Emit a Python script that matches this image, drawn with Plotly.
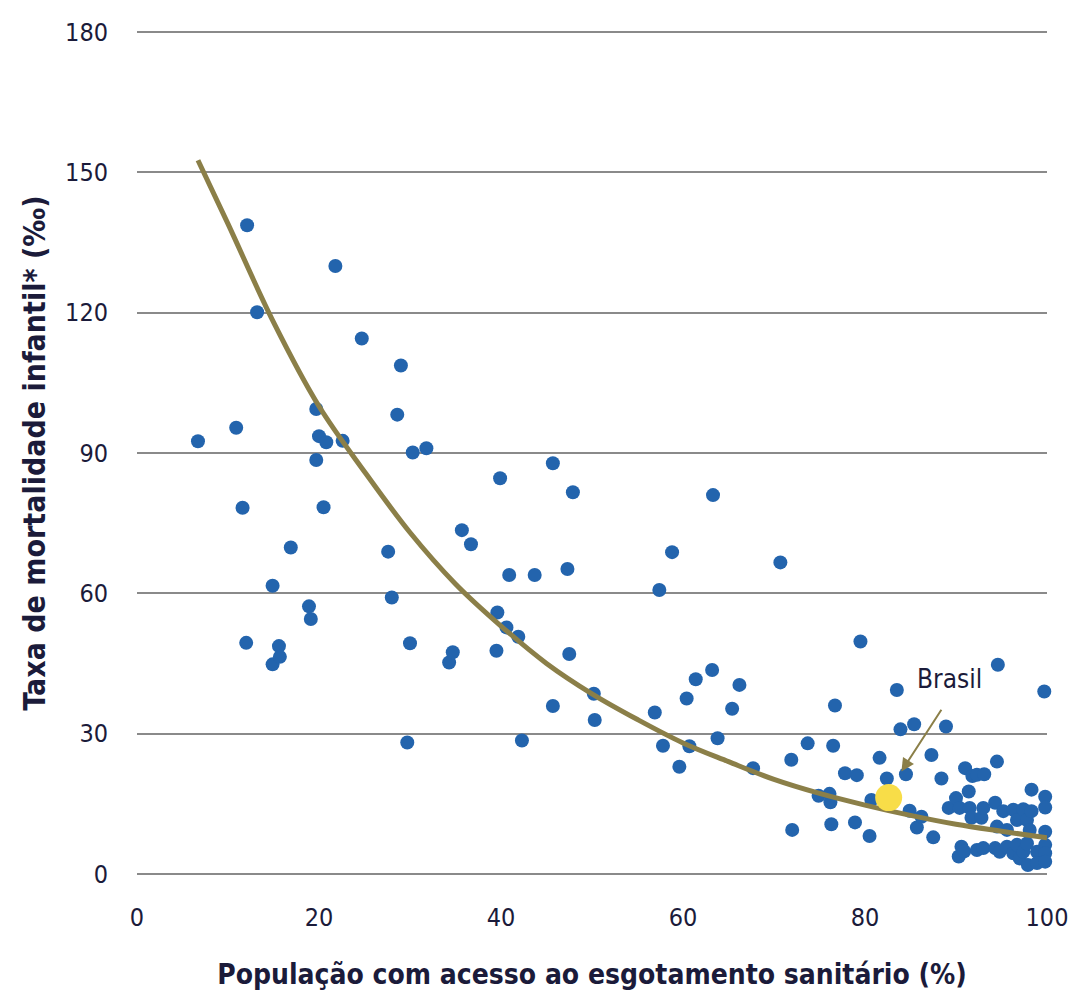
import plotly.graph_objects as go

# Scatter data: sanitation access (%) vs infant mortality (per mille)
x_access = [6.7, 10.9, 11.6, 12.0, 12.1, 13.2, 14.9, 14.9, 15.6, 15.7, 16.9, 18.9, 19.1,
            19.7, 19.7, 20.0, 20.5, 20.8, 21.8, 22.6, 24.7, 27.6, 28.0, 28.6, 29.0, 29.7,
            30.0, 30.3, 31.8, 34.3, 34.7, 35.7, 36.7, 39.5, 39.6, 39.9, 40.6, 40.9, 41.9,
            42.3, 43.7, 45.7, 45.7, 47.3, 47.5, 47.9, 50.2, 50.3, 56.9, 57.4, 57.8, 58.8,
            59.6, 60.4, 60.7, 61.4, 63.2, 63.3, 63.8, 65.4, 66.2, 67.7, 70.7, 71.9, 72.0,
            73.7, 74.9, 76.1, 76.2, 76.3, 76.5, 76.7, 77.8, 78.9, 79.1, 79.5, 80.5, 80.7,
            81.6, 82.4, 83.5, 83.9, 84.5, 84.9, 85.4, 85.7, 86.2, 87.3, 87.5, 88.4, 88.9,
            89.2, 90.0, 90.3, 90.4, 90.6, 90.9, 91.0, 91.4, 91.5, 91.7, 91.8, 92.3, 92.3,
            92.8, 93.0, 93.0, 93.1, 94.3, 94.3, 94.5, 94.5, 94.6, 94.8, 95.2, 95.6, 95.6,
            96.3, 96.3, 96.7, 96.7, 97.0, 97.4, 97.4, 97.8, 97.8, 97.9, 98.1, 98.3, 98.3,
            98.9, 98.9, 99.7, 99.8, 99.8, 99.8, 99.8, 99.8, 99.8]
y_mortality = [92.5, 95.4, 78.3, 49.4, 138.7, 120.1, 61.6, 44.8, 48.7, 46.4, 69.8, 57.2, 54.5,
               99.4, 88.5, 93.6, 78.4, 92.3, 130.0, 92.6, 114.5, 68.9, 59.1, 98.2, 108.7, 28.1,
               49.3, 90.1, 91.0, 45.2, 47.4, 73.5, 70.5, 47.7, 55.9, 84.6, 52.7, 63.9, 50.7,
               28.5, 63.9, 87.8, 35.9, 65.2, 47.0, 81.6, 38.5, 32.9, 34.5, 60.7, 27.4, 68.8,
               22.9, 37.5, 27.3, 41.6, 43.6, 81.0, 29.0, 35.3, 40.4, 22.6, 66.6, 24.4, 9.4,
               27.9, 16.7, 17.1, 15.3, 10.6, 27.4, 36.0, 21.5, 11.0, 21.1, 49.7, 8.1, 15.8,
               24.8, 20.4, 39.3, 30.9, 21.3, 13.5, 32.0, 9.9, 12.2, 25.4, 7.8, 20.4, 31.5,
               14.1, 16.2, 3.7, 14.1, 5.8, 4.8, 22.6, 17.6, 14.1, 12.0, 20.9, 21.2, 5.1,
               12.0, 14.1, 5.5, 21.3, 15.2, 5.5, 10.1, 24.0, 44.7, 4.7, 13.4, 9.4, 5.8,
               13.7, 4.4, 11.5, 6.2, 3.3, 13.8, 4.7, 11.5, 6.5, 1.9, 9.4, 13.4, 18.0,
               4.7, 2.3, 39.0, 16.5, 14.2, 9.0, 6.2, 4.4, 2.6]

# Brazil highlight
brasil_x = [82.6]
brasil_y = [16.3]

# Trend curve
trend_x = [6.7, 10, 15, 20, 25, 30, 35, 40, 45, 50, 55, 60, 65, 70, 75, 80, 85, 90, 95, 100]
trend_y = [152.6, 139, 118, 100, 86, 73, 62, 53, 45, 38.5, 33, 28, 24, 20.2, 17.2, 14.7,
           12.5, 10.6, 9.1, 7.7]

x_ticks = [0, 20, 40, 60, 80, 100]
y_ticks = [0, 30, 60, 90, 120, 150, 180]

FONT = "Liberation Sans Narrow, DejaVu Sans Condensed, Liberation Sans, Arial, sans-serif"
TXT = "#1b1b3a"

fig = go.Figure()
fig.add_trace(go.Scatter(x=x_access, y=y_mortality, mode="markers",
                         marker=dict(size=14, color="#2364ad"), cliponaxis=False,
                         showlegend=False))
fig.add_trace(go.Scatter(x=trend_x, y=trend_y, mode="lines", line_shape="spline",
                         line=dict(color="#8b7f48", width=5), cliponaxis=False,
                         showlegend=False))
fig.add_trace(go.Scatter(x=brasil_x, y=brasil_y, mode="markers",
                         marker=dict(size=27, color="#f8dd48"), cliponaxis=False,
                         showlegend=False))

fig.add_annotation(x=84.0, y=21.9, ax=88.5, ay=35.4, xref="x", yref="y",
                   axref="x", ayref="y", showarrow=True, arrowhead=2, arrowsize=1.3,
                   arrowwidth=2, arrowcolor="#8b7f48", text="")
fig.add_annotation(x=89.3, y=41.7, xref="x", yref="y", text="Brasil", showarrow=False,
                   font=dict(family=FONT, size=26, color=TXT))

fig.update_layout(
    width=1068, height=991,
    margin=dict(l=137, r=21, t=31, b=116),
    plot_bgcolor="white", paper_bgcolor="white",
    font=dict(family=FONT, color=TXT),
)
fig.update_xaxes(range=[0, 100], tickvals=x_ticks, showgrid=False, zeroline=False,
                 showline=False, ticks="", tickfont=dict(size=25, color=TXT),
                 ticklabelstandoff=25, automargin=False, ticklabeloverflow="allow",
                 title=dict(text="<b>População com acesso ao esgotamento sanitário (%)</b>",
                            font=dict(size=28, color=TXT), standoff=38))
fig.update_yaxes(range=[-0.25, 180.25], tickvals=y_ticks, showgrid=True, gridcolor="#8a8a8a",
                 gridwidth=2, zeroline=False, showline=False, ticks="",
                 tickfont=dict(size=25, color=TXT), ticklabelstandoff=28, automargin=False,
                 title=dict(text="<b>Taxa de mortalidade infantil* (‰)</b>",
                            font=dict(size=30, color=TXT), standoff=10))

# remove the default 8px page margin so the 1068x991 figure fills the window
fig.write_html("out.html", config={"displayModeBar": False},
               post_script="document.body.style.margin='0';document.body.style.overflow='hidden';")
